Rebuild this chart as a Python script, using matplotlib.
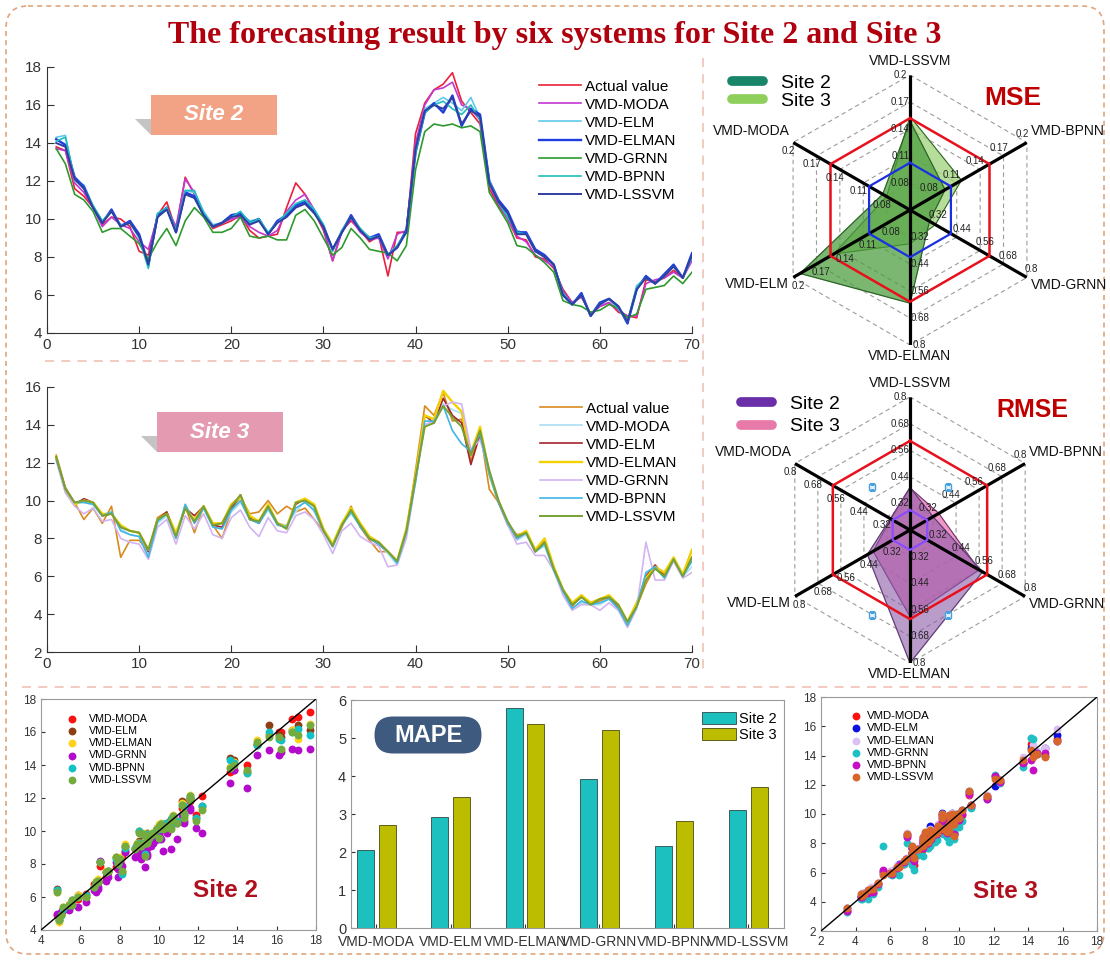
import numpy as np
import matplotlib
matplotlib.use("Agg")
import matplotlib.pyplot as plt
from matplotlib.lines import Line2D
from matplotlib.patches import FancyBboxPatch, Rectangle, Polygon

plt.rcParams['font.family'] = ['Liberation Sans', 'DejaVu Sans']

# ---------------------------------------------------------------- data
steps = np.arange(1, 71)
models = ["VMD-MODA", "VMD-ELM", "VMD-ELMAN", "VMD-GRNN", "VMD-BPNN", "VMD-LSSVM"]

actual2 = [13.8, 13.6, 11.6, 11.2, 10.6, 9.7, 10.1, 10.0, 9.6, 8.3,
           8.1, 10.2, 10.9, 9.4, 12.2, 11.3, 10.3, 9.5, 9.7, 9.9,
           10.2, 9.4, 9.0, 9.1, 9.2, 10.6, 11.9, 11.3, 10.4, 9.4,
           7.8, 9.4, 9.9, 9.4, 8.8, 9.1, 7.0, 9.3, 9.3, 14.5,
           16.1, 16.8, 17.1, 17.7, 16.2, 15.6, 15.0, 11.6, 10.7, 10.0,
           9.0, 8.9, 8.0, 7.9, 7.4, 6.3, 5.6, 5.9, 5.0, 5.4,
           5.6, 5.1, 4.9, 4.8, 6.8, 6.7, 6.9, 7.3, 6.9, 7.9]
moda2 = [13.7, 13.6, 11.9, 11.4, 10.6, 9.6, 10.1, 9.7, 9.5, 8.8,
         8.4, 10.1, 10.6, 9.6, 12.1, 11.4, 10.3, 9.6, 9.8, 10.0,
         10.1, 9.6, 9.3, 9.1, 9.4, 10.4, 11.0, 11.3, 10.5, 9.5,
         7.8, 9.3, 10.0, 9.3, 8.9, 9.0, 7.9, 9.2, 9.4, 14.0,
         16.0, 16.8, 16.9, 17.2, 16.0, 15.8, 15.2, 11.8, 10.8, 10.0,
         9.1, 8.8, 8.1, 7.8, 7.5, 6.2, 5.6, 5.9, 5.0, 5.4,
         5.6, 5.2, 4.9, 4.9, 6.6, 6.8, 6.9, 7.2, 6.9, 7.8]
elm2 = [14.3, 14.4, 12.0, 11.8, 10.7, 9.9, 10.4, 9.7, 9.8, 9.1,
        7.5, 10.2, 10.5, 9.3, 11.5, 11.4, 10.4, 9.7, 9.8, 10.2,
        10.3, 9.9, 10.0, 9.2, 9.8, 10.3, 10.8, 11.0, 10.5, 9.7,
        8.4, 9.4, 10.2, 9.5, 9.0, 9.1, 8.1, 8.6, 9.4, 13.6,
        15.8, 16.1, 16.4, 16.1, 15.7, 16.4, 15.3, 12.0, 10.9, 10.1,
        9.4, 9.2, 8.3, 8.0, 7.6, 6.0, 5.5, 6.1, 4.9, 5.5,
        5.8, 5.3, 4.6, 6.5, 6.9, 6.6, 7.0, 7.5, 6.9, 8.0]
elman2 = [14.2, 13.9, 12.2, 11.7, 10.6, 9.8, 10.5, 9.6, 9.9, 9.2,
          7.6, 10.2, 10.6, 9.3, 11.4, 11.2, 10.2, 9.6, 9.8, 10.2,
          10.3, 9.8, 10.0, 9.2, 9.9, 10.2, 10.7, 10.9, 10.4, 9.6,
          8.4, 9.3, 10.2, 9.4, 9.0, 9.2, 8.1, 8.5, 9.4, 13.5,
          15.6, 16.1, 15.6, 16.5, 14.9, 15.8, 15.5, 12.0, 11.0, 10.4,
          9.3, 9.3, 8.4, 8.1, 7.6, 6.0, 5.5, 6.1, 4.9, 5.6,
          5.8, 5.4, 4.5, 6.3, 7.0, 6.6, 7.1, 7.6, 6.9, 8.2]
grnn2 = [13.7, 12.9, 11.3, 11.0, 10.4, 9.3, 9.5, 9.5, 9.1, 8.7,
         7.9, 8.8, 9.5, 8.6, 9.9, 10.6, 10.1, 9.3, 9.3, 9.5,
         10.1, 9.1, 9.0, 9.1, 8.9, 8.9, 10.2, 10.5, 9.9, 9.0,
         8.1, 8.5, 9.5, 9.0, 8.4, 8.3, 8.2, 7.8, 8.6, 12.6,
         14.6, 15.0, 14.9, 15.0, 14.8, 14.9, 14.6, 11.4, 10.6, 9.8,
         8.6, 8.5, 8.1, 7.7, 7.2, 5.7, 5.5, 5.4, 5.1, 5.2,
         5.5, 5.3, 4.8, 5.0, 6.3, 6.4, 6.5, 7.0, 6.6, 7.2]
bpnn2 = [14.1, 14.3, 12.1, 11.6, 10.7, 9.9, 10.4, 9.6, 9.8, 9.0,
         7.4, 10.3, 10.6, 9.4, 11.5, 11.5, 10.3, 9.6, 9.8, 10.1,
         10.4, 9.8, 10.0, 9.3, 9.8, 10.3, 10.8, 11.0, 10.5, 9.7,
         8.3, 9.4, 10.1, 9.5, 9.0, 9.1, 8.1, 8.6, 9.3, 13.5,
         15.6, 16.0, 16.2, 15.8, 15.5, 16.0, 15.2, 12.0, 10.9, 10.1,
         9.3, 9.2, 8.3, 8.0, 7.6, 6.1, 5.5, 6.0, 4.9, 5.5,
         5.8, 5.3, 4.6, 6.4, 6.9, 6.6, 7.0, 7.5, 6.9, 8.0]
lssvm2 = [14.0, 13.8, 12.1, 11.6, 10.6, 9.8, 10.4, 9.6, 9.8, 9.1,
          7.6, 10.1, 10.5, 9.3, 11.3, 11.1, 10.2, 9.6, 9.8, 10.1,
          10.2, 9.7, 9.9, 9.2, 9.8, 10.1, 10.6, 10.8, 10.3, 9.6,
          8.4, 9.3, 10.1, 9.4, 8.9, 9.1, 8.1, 8.5, 9.3, 13.7,
          15.7, 16.0, 15.8, 16.4, 15.0, 15.7, 15.4, 11.9, 10.9, 10.3,
          9.2, 9.2, 8.3, 8.0, 7.6, 6.0, 5.5, 6.0, 4.9, 5.5,
          5.8, 5.4, 4.6, 6.3, 6.9, 6.6, 7.0, 7.5, 6.9, 8.1]

actual3 = [12.4, 10.7, 9.9, 9.0, 9.6, 8.8, 9.7, 7.0, 7.9, 7.9,
           7.3, 9.1, 9.4, 8.2, 9.7, 8.3, 9.7, 8.7, 8.0, 9.5,
           10.2, 9.3, 9.4, 10.0, 9.3, 9.7, 9.4, 9.6, 9.0, 8.4,
           7.6, 8.6, 9.7, 8.6, 7.9, 7.3, 7.3, 6.8, 8.4, 11.6,
           15.0, 14.5, 15.7, 14.2, 14.3, 12.1, 13.7, 10.6, 9.9, 8.7,
           8.2, 8.3, 7.3, 7.9, 6.4, 5.3, 4.4, 5.0, 4.5, 4.7,
           4.9, 4.3, 3.5, 4.4, 5.6, 6.5, 6.1, 6.9, 6.0, 7.4]
moda3 = [12.2, 10.5, 9.9, 9.9, 9.8, 9.2, 9.3, 8.5, 8.2, 8.1,
         7.1, 8.8, 9.2, 8.0, 9.8, 8.8, 9.6, 8.6, 8.5, 9.4,
         9.9, 9.0, 8.8, 9.5, 8.8, 8.7, 9.4, 10.0, 9.4, 8.4,
         7.5, 8.7, 9.3, 8.7, 8.0, 7.7, 7.2, 6.6, 8.2, 11.1,
         14.0, 14.2, 15.1, 14.8, 14.6, 12.6, 13.5, 11.3, 9.9, 8.8,
         7.9, 8.2, 7.3, 7.6, 6.3, 5.3, 4.3, 4.6, 4.5, 4.5,
         4.8, 4.3, 3.4, 4.4, 6.1, 6.4, 6.0, 6.9, 6.0, 6.5]
elm3 = [12.3, 10.6, 9.8, 10.1, 9.9, 9.2, 9.3, 8.6, 8.4, 8.3,
        7.3, 9.0, 9.4, 8.2, 9.6, 9.2, 9.7, 8.7, 8.6, 9.6,
        10.3, 9.1, 8.8, 9.7, 8.8, 8.6, 9.8, 10.1, 9.7, 8.5,
        7.6, 8.7, 9.5, 8.7, 8.0, 7.7, 7.3, 6.8, 8.4, 11.2,
        14.5, 14.1, 15.4, 14.5, 14.1, 11.9, 13.5, 11.5, 9.9, 8.8,
        8.0, 8.3, 7.3, 7.8, 6.4, 5.2, 4.5, 4.9, 4.6, 4.8,
        4.9, 4.4, 3.6, 4.5, 6.0, 6.6, 6.0, 6.9, 6.0, 7.0]
elman3 = [12.3, 10.5, 9.8, 10.0, 9.9, 9.3, 9.3, 8.7, 8.4, 8.3,
          7.4, 9.0, 9.3, 8.3, 9.6, 9.0, 9.7, 8.8, 8.8, 9.8,
          10.2, 9.2, 8.9, 9.8, 8.8, 8.6, 9.9, 10.1, 9.8, 8.5,
          7.7, 8.8, 9.6, 8.8, 8.1, 7.8, 7.3, 6.8, 8.5, 11.3,
          14.5, 14.3, 15.8, 15.2, 14.7, 12.5, 13.9, 11.4, 10.0, 8.8,
          8.1, 8.4, 7.4, 8.0, 6.5, 5.3, 4.6, 5.0, 4.6, 4.8,
          5.0, 4.5, 3.6, 4.6, 5.9, 6.5, 6.2, 7.0, 6.1, 7.4]
grnn3 = [12.1, 10.4, 9.7, 9.3, 9.6, 8.9, 9.0, 8.0, 7.8, 7.7,
         6.9, 8.6, 9.0, 7.7, 9.2, 8.5, 9.3, 8.2, 8.0, 9.1,
         9.5, 8.6, 8.1, 9.1, 8.4, 8.3, 9.2, 9.4, 9.0, 8.2,
         7.2, 8.4, 8.8, 8.1, 7.8, 7.6, 6.5, 6.6, 8.0, 11.0,
         14.0, 14.2, 15.0, 15.2, 15.1, 12.7, 13.2, 11.6, 10.0, 8.7,
         7.7, 7.8, 7.1, 7.1, 6.3, 5.0, 4.2, 4.5, 4.5, 4.2,
         4.6, 4.2, 3.3, 4.3, 7.8, 5.8, 5.8, 6.8, 5.9, 6.2]
bpnn3 = [12.2, 10.6, 9.9, 9.9, 9.8, 9.2, 9.4, 8.4, 8.2, 8.1,
         7.0, 8.9, 9.3, 8.0, 9.8, 8.8, 9.6, 8.6, 8.5, 9.5,
         10.0, 9.0, 8.8, 9.6, 8.7, 8.6, 9.6, 9.9, 9.5, 8.4,
         7.6, 8.7, 9.4, 8.6, 8.0, 7.7, 7.3, 6.7, 8.3, 11.0,
         14.2, 14.2, 15.0, 13.7, 13.0, 12.6, 13.5, 11.4, 9.9, 8.8,
         8.0, 8.3, 7.3, 7.7, 6.3, 5.2, 4.3, 4.7, 4.5, 4.6,
         4.8, 4.3, 3.4, 4.4, 6.2, 6.5, 5.9, 6.9, 6.0, 6.8]
lssvm3 = [12.3, 10.6, 9.9, 10.0, 9.9, 9.2, 9.3, 8.6, 8.4, 8.3,
          7.4, 9.0, 9.3, 8.1, 9.6, 8.9, 9.7, 8.7, 8.8, 9.7,
          10.3, 9.0, 8.9, 9.7, 8.8, 8.5, 9.9, 10.0, 9.7, 8.4,
          7.6, 8.7, 9.5, 8.7, 8.0, 7.8, 7.3, 6.8, 8.4, 11.2,
          13.9, 14.1, 15.0, 14.4, 13.9, 12.4, 13.7, 11.6, 10.0, 8.9,
          8.1, 8.3, 7.3, 7.8, 6.4, 5.3, 4.5, 4.9, 4.5, 4.8,
          4.9, 4.5, 3.6, 4.4, 5.8, 6.4, 6.0, 6.9, 6.0, 7.0]

# MAPE (%) per model
mape_site2 = [2.04, 2.93, 5.78, 3.92, 2.17, 3.10]
mape_site3 = [2.70, 3.44, 5.38, 5.20, 2.82, 3.71]

# radar spokes, clockwise from the top
radar_axes = ["VMD-LSSVM", "VMD-BPNN", "VMD-GRNN", "VMD-ELMAN", "VMD-ELM", "VMD-MODA"]
mse_lo = [0.05, 0.05, 0.2, 0.2, 0.05, 0.05]
mse_hi = [0.2, 0.2, 0.8, 0.8, 0.2, 0.2]
mse_site2 = [0.149, 0.095, 0.30, 0.614, 0.191, 0.085]
mse_site3 = [0.154, 0.116, 0.33, 0.35, 0.148, 0.080]
rmse_lo = [0.2] * 6
rmse_hi = [0.8] * 6
rmse_site2 = [0.392, 0.32, 0.578, 0.80, 0.422, 0.302]
rmse_site3 = [0.390, 0.35, 0.560, 0.59, 0.392, 0.300]

# ---------------------------------------------------------------- figure
W, H = 1110, 960
fig = plt.figure(figsize=(W / 100, H / 100), dpi=100)


def px_rect(left, top, right, bottom):
    return [left / W, 1 - bottom / H, (right - left) / W, (bottom - top) / H]


# background layer: frame, separators, title
bg = fig.add_axes([0, 0, 1, 1], zorder=-5)
bg.set_xlim(0, W)
bg.set_ylim(H, 0)
bg.axis('off')
bg.add_patch(FancyBboxPatch((6, 6), W - 12, H - 12,
                            boxstyle='round,pad=0,rounding_size=22',
                            fill=False, ec='#e2a47c', lw=1.2, ls=(0, (3, 2.5))))
sep = dict(color='#f1c6bd', lw=1.3, ls=(0, (5, 4)))
bg.plot([703, 703], [58, 672], **sep)
bg.plot([45, 695], [361, 361], **sep)
bg.plot([22, 1090], [687, 687], **sep)
bg.text(555, 35, "The forecasting result by six systems for Site 2 and Site 3",
        ha='center', va='center', fontsize=23, fontweight='bold',
        family='Liberation Serif', color='#b0000e')

# ---------------------------------------------------------------- line panels
line_labels = ["Actual value"] + models
colors_l2 = ['#e8213c', '#c437cf', '#62c8ea', '#1e3ee0', '#2e9a2e', '#1fbdbd', '#2f3ea3']
colors_l3 = ['#d88a1e', '#a9def3', '#a3252d', '#f3d000', '#d3b4f2', '#3fb6e3', '#77a133']
widths_l = [1.2, 1.2, 1.2, 1.7, 1.2, 1.2, 1.4]


def line_panel(rect, series, colors, ylim, yticks, anchor):
    ax = fig.add_axes(rect)
    for name, vals, c, lw in zip(line_labels, series, colors, widths_l):
        ax.plot(steps, vals, color=c, lw=lw, label=name)
    ax.set_xlim(0, 70)
    ax.set_ylim(*ylim)
    ax.set_xticks(range(0, 71, 10))
    ax.set_yticks(yticks)
    for s in ('top', 'right'):
        ax.spines[s].set_visible(False)
    for s in ('left', 'bottom'):
        ax.spines[s].set_color('#333333')
        ax.spines[s].set_linewidth(0.8)
    ax.tick_params(direction='in', length=5, labelsize=11, colors='#333333')
    ax.legend(loc='upper left', bbox_to_anchor=anchor, frameon=False, fontsize=11,
              handlelength=2.75, handletextpad=0.28, labelspacing=0.27,
              borderpad=0, borderaxespad=0)
    return ax


line_panel(px_rect(47, 67, 692, 333),
           [actual2, moda2, elm2, elman2, grnn2, bpnn2, lssvm2], colors_l2,
           (4, 18), range(4, 19, 2), (0.763, 0.953))
line_panel(px_rect(47, 387, 692, 652),
           [actual3, moda3, elm3, elman3, grnn3, bpnn3, lssvm3], colors_l3,
           (2, 16), range(2, 17, 2), (0.764, 0.945))

# ---------------------------------------------------------------- radar panels
theta = np.deg2rad(np.arange(6) * 60)
name_pos = [('center', 'bottom', 0, 5), ('left', 'center', 3, 8),
            ('left', 'center', 3, -5.5), ('center', 'center', 0, -8),
            ('right', 'center', -3, -4.5), ('right', 'center', -2, 8)]


def closed(v):
    v = np.asarray(v, dtype=float)
    return np.append(v, v[0])


def radar(rect, lo, hi, s2, s3, fill2, fill3, edge, refs, tag, tag_xy, tag_size,
          leg_colors, leg_anchor, leg_spacing):
    ax = fig.add_axes(rect, projection='polar')
    ax.set_theta_zero_location('N')
    ax.set_theta_direction(-1)
    ax.set_ylim(0, 1)
    ax.axis('off')
    lo = np.asarray(lo)
    hi = np.asarray(hi)
    th = closed(theta)
    for k in range(1, 6):
        ax.plot(th, np.full(7, k / 5), color='#9c9c9c', lw=0.8, ls=(0, (4, 3)), zorder=1)
    r3 = (np.asarray(s3) - lo) / (hi - lo)
    r2 = (np.asarray(s2) - lo) / (hi - lo)
    ax.fill(th, closed(r3), color=fill3[0], alpha=fill3[1], zorder=2)
    ax.plot(th, closed(r3), color=edge, lw=0.7, zorder=2)
    ax.fill(th, closed(r2), color=fill2[0], alpha=fill2[1], zorder=3)
    ax.plot(th, closed(r2), color=edge, lw=0.7, zorder=3)
    for t in theta:
        ax.plot([t, t], [0, 1], color='black', lw=2.3, zorder=4, solid_capstyle='butt')
    for level, c, lw in refs:
        ax.plot(th, np.full(7, level), color=c, lw=lw, zorder=5)
    for i, t in enumerate(theta):
        phi = np.deg2rad(90 - np.rad2deg(t) + 90)
        off = (7 * np.cos(phi), 7 * np.sin(phi))
        for k in range(1, 6):
            val = lo[i] + k * (hi[i] - lo[i]) / 5
            ax.annotate(f"{val:.2f}".rstrip('0'), xy=(t, k / 5), xytext=off,
                        textcoords='offset points', ha='center', va='center',
                        fontsize=7, color='#222222', zorder=6)
        ha, va, dx, dy = name_pos[i]
        ax.annotate(radar_axes[i], xy=(t, 1.0), xytext=(dx, dy),
                    textcoords='offset points', ha=ha, va=va, fontsize=10,
                    color='#111111', annotation_clip=False)
    handles = [Line2D([0], [0], color=c, lw=7, solid_capstyle='round') for c in leg_colors]
    fig.legend(handles, ["Site 2", "Site 3"], loc='upper left', bbox_to_anchor=leg_anchor,
               frameon=False, fontsize=14, handlelength=1.6, handletextpad=0.9,
               labelspacing=leg_spacing, borderpad=0, borderaxespad=0)
    fig.text(tag_xy[0] / W, 1 - tag_xy[1] / H, tag, ha='center', va='center',
             fontsize=tag_size, fontweight='bold', color='#c00000')
    return ax


radar(px_rect(775, 75, 1045, 345), mse_lo, mse_hi, mse_site2, mse_site3,
      ('#4a9c3c', 0.72), ('#9fd27a', 0.75), '#2d5a2a',
      [(0.68, '#e8101c', 1.8), (0.35, '#1b2fe0', 1.6)],
      "MSE", (1013, 98), 19, ['#188468', '#8fd05c'], (732 / W, 1 - 74 / H), 0.05)

rax = radar(px_rect(777, 397, 1043, 663), rmse_lo, rmse_hi, rmse_site2, rmse_site3,
            ('#8c5aa9', 0.6), ('#ec70b2', 0.72), '#5a3a6a',
            [(0.67, '#e8101c', 1.8), (0.15, '#8a4cff', 1.6)],
            "RMSE", (1032, 410), 18, ['#6a2ea8', '#e77aa8'], (741 / W, 1 - 395 / H), 0.27)
rax.plot(np.deg2rad([41.5, 318.5, 156.1, 203.9]), [0.43, 0.43, 0.70, 0.70], 's',
         ms=4.5, mfc='#e2f0fa', mec='#4aa0dc', mew=1.0, ls='none', zorder=6)

# ---------------------------------------------------------------- scatter panels
sc2_colors = ['#ff1010', '#8e3f12', '#ffd21a', '#b40acb', '#10c2c6', '#74ab3f']
sc3_colors = ['#ff1010', '#0a10e0', '#dcc0f4', '#1ec0c4', '#c40fc4', '#d8652a']


def scatter_panel(rect, actual, preds, colors, ticks, tag, anchor, pad, fs):
    ax = fig.add_axes(rect)
    for name, p, c in zip(models, preds, colors):
        ax.scatter(actual, p, s=32, color=c, linewidths=0, label=name, zorder=3)
    lims = [ticks[0], ticks[-1]]
    ax.plot(lims, lims, color='black', lw=1.0, zorder=4)
    ax.set_xlim(lims)
    ax.set_ylim(lims)
    ax.set_xticks(ticks)
    ax.set_yticks(ticks)
    for s in ax.spines.values():
        s.set_color('#9a9a9a')
        s.set_linewidth(0.8)
    ax.tick_params(direction='in', length=3, labelsize=8.5, colors='#333333')
    ax.legend(loc='upper left', bbox_to_anchor=anchor, frameon=False, fontsize=fs,
              handlelength=1.0, handletextpad=pad, labelspacing=0.2,
              borderpad=0, borderaxespad=0, scatterpoints=1)
    ax.text(0.67, 0.17, tag, transform=ax.transAxes, ha='center', va='center',
            fontsize=17.5, fontweight='bold', color='#b0101e')
    return ax


scatter_panel(px_rect(41, 699, 316, 930), actual2,
              [moda2, elm2, elman2, grnn2, bpnn2, lssvm2], sc2_colors,
              list(range(4, 19, 2)), "Site 2", (0.093, 0.935), 1.1, 7.7)
scatter_panel(px_rect(821, 697, 1097, 931), actual3,
              [moda3, elm3, elman3, grnn3, bpnn3, lssvm3], sc3_colors,
              list(range(2, 19, 2)), "Site 3", (0.105, 0.940), 0.5, 8.2)

# ---------------------------------------------------------------- MAPE bars
axb = fig.add_axes(px_rect(351, 700, 784, 928))
xpos = np.arange(1, 7)
axb.bar(xpos - 0.145, mape_site2, 0.23, color='#1cc0bf', ec='#2c4a48', lw=0.6, label='Site 2')
axb.bar(xpos + 0.145, mape_site3, 0.23, color='#bdbd00', ec='#4a4a10', lw=0.6, label='Site 3')
axb.set_xlim(0.66, 6.48)
axb.set_ylim(0, 6)
axb.set_xticks(xpos, models)
axb.set_yticks(range(0, 7))
for s in axb.spines.values():
    s.set_color('#9a9a9a')
    s.set_linewidth(0.8)
axb.tick_params(direction='in', length=3, labelsize=10.5, colors='#333333')
axb.tick_params(axis='x', labelsize=10, pad=5)
axb.legend(loc='upper left', bbox_to_anchor=(0.811, 0.947), frameon=False, fontsize=10.5,
           handlelength=2.3, handleheight=0.9, handletextpad=0.25, labelspacing=0.1,
           borderpad=0, borderaxespad=0)

# ---------------------------------------------------------------- foreground tags
fg = fig.add_axes([0, 0, 1, 1], zorder=10)
fg.set_xlim(0, W)
fg.set_ylim(H, 0)
fg.axis('off')
for (x0, y0, w, h, c, label) in [(151, 95, 126, 40, '#f2a385', "Site 2"),
                                 (157, 412, 126, 40, '#e49bb2', "Site 3")]:
    fg.add_patch(Polygon([(x0 - 16, y0 + 24), (x0, y0 + 24), (x0, y0 + h)],
                         closed=True, fc='#c4c4c4', ec='none'))
    fg.add_patch(Rectangle((x0, y0), w, h, fc=c, ec='none'))
    fg.text(x0 + w / 2, y0 + h / 2, label, ha='center', va='center', fontsize=16,
            fontweight='bold', fontstyle='italic', color='white')
fg.add_patch(FancyBboxPatch((374.5, 716.5), 107, 37,
                            boxstyle='round,pad=0,rounding_size=18.5',
                            fc='#3e5a7f', ec='none'))
fg.text(428, 735.5, "MAPE", ha='center', va='center', fontsize=17,
        fontweight='bold', color='white')

fig.savefig("out.png", dpi=100)
